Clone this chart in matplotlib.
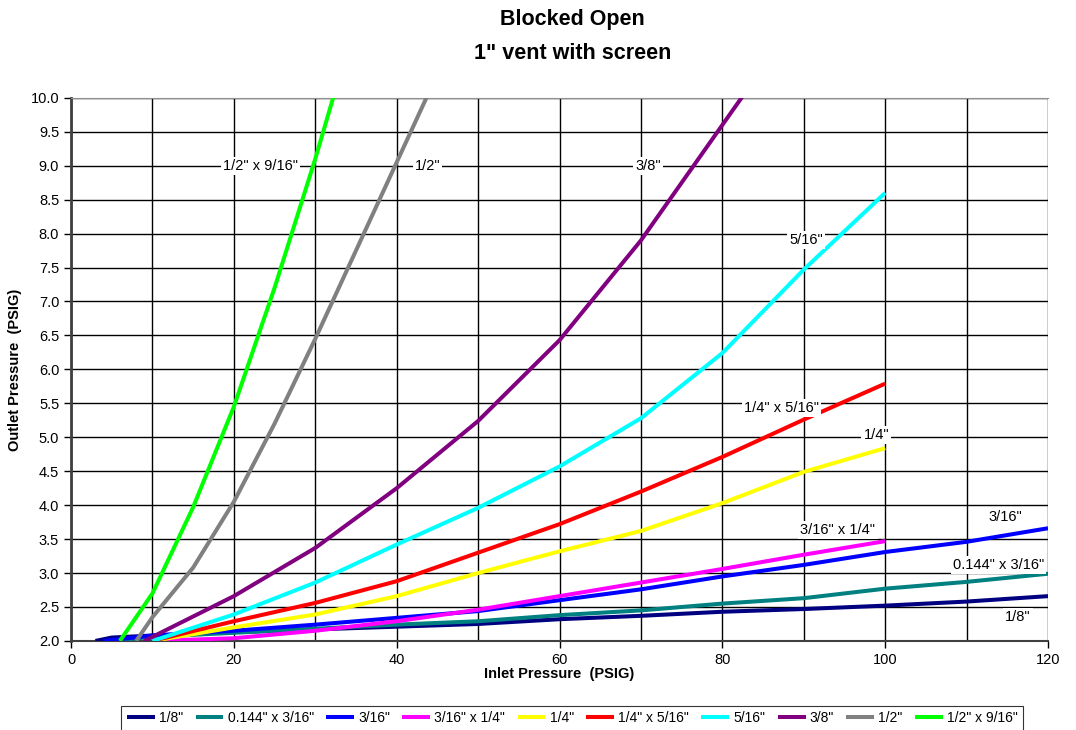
import matplotlib
matplotlib.use("Agg")
import matplotlib.pyplot as plt

plt.rcParams['font.family'] = ['Liberation Sans', 'DejaVu Sans']

# inlet / outlet pressure (PSIG) per orifice size
x_18 = [3, 5, 10, 20, 30, 40, 50, 60, 70, 80, 90, 100, 110, 120]
y_18 = [2.0, 2.05, 2.08, 2.13, 2.17, 2.21, 2.25, 2.32, 2.37, 2.43, 2.47, 2.52, 2.58, 2.66]

x_0144 = [5, 10, 20, 30, 40, 50, 60, 70, 80, 90, 100, 110, 120]
y_0144 = [2.0, 2.06, 2.12, 2.18, 2.24, 2.29, 2.38, 2.45, 2.55, 2.63, 2.77, 2.87, 2.99]

x_316 = [4, 10, 20, 30, 40, 50, 60, 70, 80, 90, 100, 110, 120]
y_316 = [2.0, 2.08, 2.15, 2.24, 2.34, 2.44, 2.6, 2.76, 2.95, 3.12, 3.31, 3.46, 3.66]

x_316x14 = [10, 20, 30, 40, 50, 60, 70, 80, 90, 100]
y_316x14 = [2.0, 2.04, 2.15, 2.29, 2.46, 2.66, 2.86, 3.06, 3.27, 3.47]

x_14 = [10, 20, 30, 40, 50, 60, 70, 80, 90, 100]
y_14 = [2.0, 2.2, 2.39, 2.66, 3.0, 3.32, 3.62, 4.03, 4.49, 4.84]

x_14x516 = [10, 20, 30, 40, 50, 60, 70, 80, 90, 100]
y_14x516 = [2.0, 2.29, 2.56, 2.88, 3.3, 3.72, 4.2, 4.71, 5.26, 5.79]

x_516 = [10, 20, 30, 40, 50, 60, 70, 80, 90, 100]
y_516 = [2.0, 2.39, 2.86, 3.42, 3.96, 4.57, 5.28, 6.24, 7.47, 8.6]

x_38 = [9, 10, 20, 30, 40, 50, 60, 70, 80, 90]
y_38 = [2.0, 2.06, 2.66, 3.37, 4.25, 5.24, 6.43, 7.9, 9.6, 11.3]

x_12 = [8, 10, 15, 20, 25, 30, 35, 40, 45]
y_12 = [2.0, 2.35, 3.08, 4.05, 5.2, 6.45, 7.75, 9.05, 10.35]

x_12x916 = [6, 10, 15, 20, 25, 30, 35]
y_12x916 = [2.0, 2.7, 3.97, 5.45, 7.2, 9.1, 11.15]

names = ['1/8"', '0.144" x 3/16"', '3/16"', '3/16" x 1/4"', '1/4"',
         '1/4" x 5/16"', '5/16"', '3/8"', '1/2"', '1/2" x 9/16"']
colors = ['#000080', '#008080', '#0000ff', '#ff00ff', '#ffff00',
          '#ff0000', '#00ffff', '#800080', '#808080', '#00ff00']
xs = [x_18, x_0144, x_316, x_316x14, x_14, x_14x516, x_516, x_38, x_12, x_12x916]
ys = [y_18, y_0144, y_316, y_316x14, y_14, y_14x516, y_516, y_38, y_12, y_12x916]

# in-plot labels: (x, y) anchor in data units
label_pos = [(116.3, 2.35), (113.9, 3.12), (114.7, 3.83), (94.2, 3.63), (98.9, 5.03),
             (87.3, 5.43), (90.3, 7.9), (70.9, 9.0), (43.8, 9.0), (23.3, 9.0)]

fig = plt.figure(figsize=(10.76, 7.3), dpi=100)
ax = fig.add_axes([0.066, 0.122, 0.908, 0.744])

for x, y, c, n in zip(xs, ys, colors, names):
    ax.plot(x, y, color=c, lw=2.9, label=n, solid_capstyle='butt', zorder=3)

for (lx, ly), n in zip(label_pos, names):
    ax.text(lx, ly, n, ha='center', va='center', fontsize=10.5, zorder=4,
            bbox=dict(facecolor='white', edgecolor='none', pad=1.5))

ax.set_xlim(0, 120)
ax.set_ylim(2.0, 10.0)
ax.set_xticks(range(0, 121, 20))
ax.set_xticks(range(0, 121, 10), minor=True)
ax.set_yticks([2.0 + 0.5 * i for i in range(17)])
ax.set_yticklabels([f"{2.0 + 0.5 * i:.1f}" for i in range(17)])
ax.grid(True, which='both', color='black', lw=1.0, zorder=1)
ax.tick_params(axis='both', labelsize=10.5, direction='out', length=5, width=1)
ax.tick_params(axis='x', which='minor', length=0)

ax.spines['left'].set_color('#404040')
ax.spines['left'].set_linewidth(2)
ax.spines['bottom'].set_color('#404040')
ax.spines['bottom'].set_linewidth(1.5)
ax.spines['top'].set_color('#909090')
ax.spines['right'].set_visible(False)

ax.set_xlabel('Inlet Pressure  (PSIG)', fontsize=10.5, fontweight='bold', labelpad=0)
ax.set_ylabel('Outlet Pressure  (PSIG)', fontsize=10.5, fontweight='bold', labelpad=6)

fig.text(0.532, 0.973, 'Blocked Open', ha='center', va='center', fontsize=15.5, fontweight='bold')
fig.text(0.532, 0.927, '1" vent with screen', ha='center', va='center', fontsize=15.5, fontweight='bold')

leg = fig.legend(loc='upper center', bbox_to_anchor=(0.532, 0.043), ncol=10, fontsize=10,
                 frameon=True, fancybox=False, edgecolor='black', handlelength=2.0,
                 handletextpad=0.3, columnspacing=0.9, borderpad=0.4)
leg.get_frame().set_linewidth(0.8)

fig.savefig('out.png', dpi=100)
